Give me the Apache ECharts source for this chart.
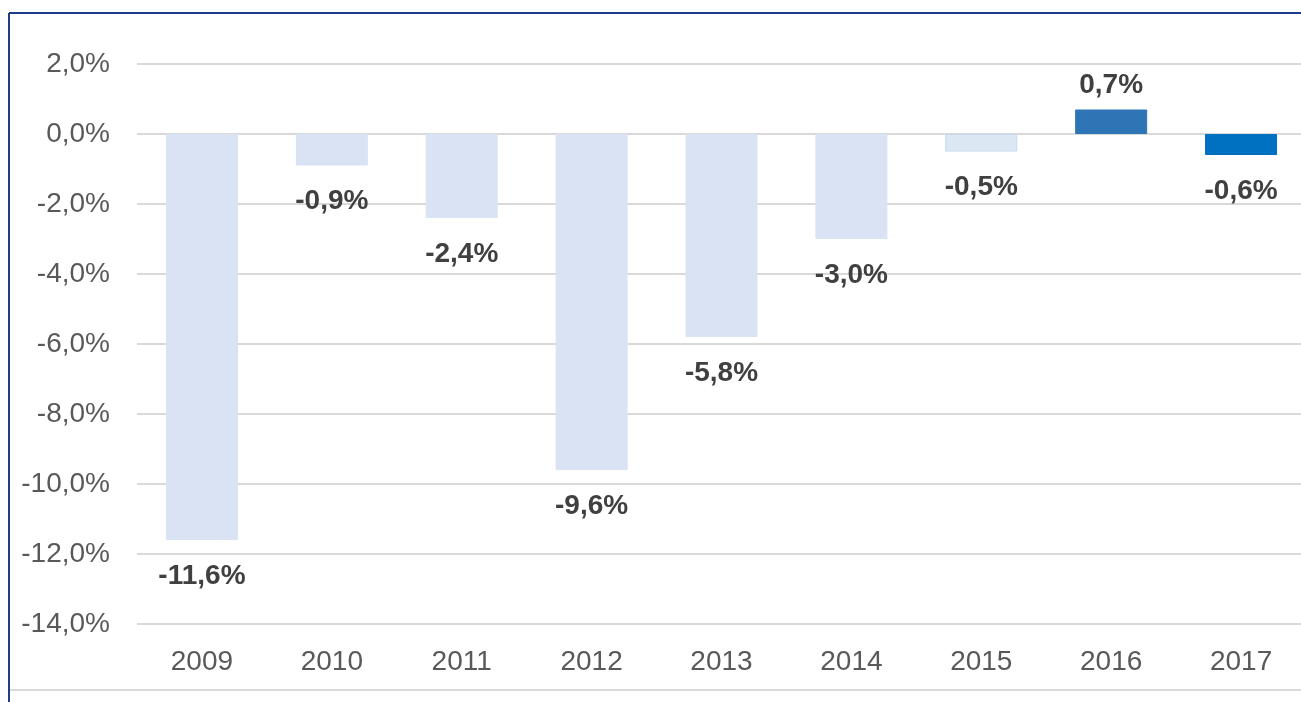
<!DOCTYPE html>
<html>
<head>
<meta charset="utf-8">
<script src="https://cdn.jsdelivr.net/npm/echarts@6/dist/echarts.min.js"></script>
<style>
html,body{margin:0;padding:0;background:#fff;}
#chart{width:1301px;height:702px;}
</style>
</head>
<body>
<div id="chart"></div>
<script>
const categories = ['2009','2010','2011','2012','2013','2014','2015','2016','2017'];
const values = [-11.6, -0.9, -2.4, -9.6, -5.8, -3.0, -0.5, 0.7, -0.6];
const barColors = ['#dae3f3','#dae3f3','#dae3f3','#dae3f3','#dae3f3','#dae3f3','#dce7f4','#2e75b6','#0070c0'];
const barBorders = ['#dae3f3','#dae3f3','#dae3f3','#dae3f3','#dae3f3','#dae3f3','#c6d9f0','#2e75b6','#0070c0'];

function fmt(v){ return v.toFixed(1).replace('.', ',') + '%'; }

const chart = echarts.init(document.getElementById('chart'), null, {renderer:'canvas'});
const data = values.map((v,i)=>({
  value: v,
  itemStyle: {color: barColors[i], borderColor: barBorders[i], borderWidth: 1},
  label: {position: v >= 0 ? 'top' : 'bottom', distance: v >= 0 ? 10 : 22}
}));

chart.setOption({
  animation: false,
  grid: {left: 137, top: 64, width: 1169, height: 560, containLabel: false, outerBoundsMode: 'none'},
  xAxis: {
    type: 'category',
    data: categories,
    axisLine: {show: false},
    axisTick: {show: false},
    axisLabel: {color: '#595959', fontSize: 28, fontFamily: 'Liberation Sans, Arial, sans-serif', margin: 24}
  },
  yAxis: {
    type: 'value',
    min: -14, max: 2, interval: 2,
    axisLine: {show: false},
    axisTick: {show: false},
    splitLine: {lineStyle: {color: '#d9d9d9', width: 2}},
    axisLabel: {color: '#595959', fontSize: 28, fontFamily: 'Liberation Sans, Arial, sans-serif', margin: 27,
      formatter: v => fmt(v)}
  },
  series: [{
    type: 'bar',
    data: data,
    barWidth: 72,
    label: {show: true, color: '#404040', fontSize: 28, fontWeight: 'bold',
      fontFamily: 'Liberation Sans, Arial, sans-serif',
      formatter: p => fmt(p.value)}
  }],
  graphic: [
    {type:'line', shape:{x1:9, y1:13, x2:1301, y2:13}, style:{stroke:'#1f3c88', lineWidth:2}, silent:true},
    {type:'line', shape:{x1:9, y1:13, x2:9, y2:702}, style:{stroke:'#1f3c88', lineWidth:2}, silent:true},
    {type:'line', shape:{x1:10, y1:690, x2:1301, y2:690}, style:{stroke:'#d9d9d9', lineWidth:2}, silent:true}
  ]
});
</script>
</body>
</html>
